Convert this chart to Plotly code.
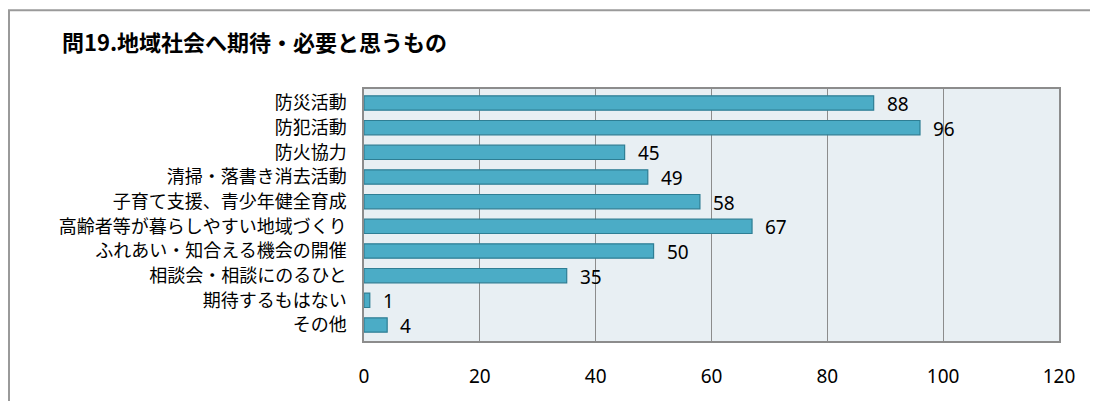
import plotly.graph_objects as go

categories = ["防災活動", "防犯活動", "防火協力", "清掃・落書き消去活動", "子育て支援、青少年健全育成",
              "高齢者等が暮らしやすい地域づくり", "ふれあい・知合える機会の開催", "相談会・相談にのるひと",
              "期待するもはない", "その他"]
values = [88, 96, 45, 49, 58, 67, 50, 35, 1, 4]
x_ticks = [0, 20, 40, 60, 80, 100, 120]
title = "問19.地域社会へ期待・必要と思うもの"

# page body adds an 8px offset; figure coordinates below are page coords minus 8
OFF = 8
W, H = 1098 - OFF, 401 - OFF
L, R, T, B = 364 - OFF, 1059 - OFF, 89 - OFF, 345 - OFF

NUMFONT = "'Noto Sans', 'Open Sans', sans-serif"

fig = go.Figure()
fig.add_trace(go.Bar(
    y=categories, x=values, orientation="h",
    marker=dict(color="#4BACC6", line=dict(color="#2E7E94", width=1.2)),
    width=0.58, hoverinfo="skip",
))
for c, v in zip(categories, values):
    fig.add_annotation(x=v, y=c, text=str(v), showarrow=False, xanchor="left",
                       xshift=11, yshift=-1, font=dict(size=19, color="#000",
                       family=NUMFONT, weight="normal"))

pw = R - L
ph = B - T
fig.add_shape(type="rect", xref="paper", yref="paper",
              x0=(1 - L) / pw, x1=(W + 20 - L) / pw,
              y0=(B - H - 30) / ph, y1=(B - 1) / ph,
              line=dict(color="#9A9A9A", width=2), fillcolor="rgba(0,0,0,0)", layer="above")

fig.update_layout(
    width=W, height=H,
    margin=dict(l=L, r=W - R, t=T, b=H - B, pad=0),
    paper_bgcolor="white", plot_bgcolor="#E8EFF3",
    showlegend=False,
    font=dict(family="'Noto Sans CJK JP', sans-serif", color="#000"),
    title=dict(text=title, x=54 / W, xanchor="left", y=1 - 35 / H, yanchor="middle",
               font=dict(size=22, family="'Noto Sans CJK JP', sans-serif", weight="bold", color="#000")),
    xaxis=dict(range=[0, 120], tickvals=x_ticks, ticktext=[str(t) for t in x_ticks],
               showgrid=True, gridcolor="#8C8C8C", gridwidth=1.2,
               showline=True, linecolor="#8C8C8C", linewidth=1.5, mirror=True,
               zeroline=False, ticks="", ticklabelstandoff=17,
               tickfont=dict(size=19, family=NUMFONT, color="#000", weight="normal"), fixedrange=True),
    yaxis=dict(categoryorder="array", categoryarray=categories[::-1],
               showline=True, linecolor="#8C8C8C", linewidth=1.5, mirror=True,
               showgrid=False, ticks="", ticklabelstandoff=12,
               tickfont=dict(size=18, color="#000"), fixedrange=True),
)

fig.write_html("out.html")
